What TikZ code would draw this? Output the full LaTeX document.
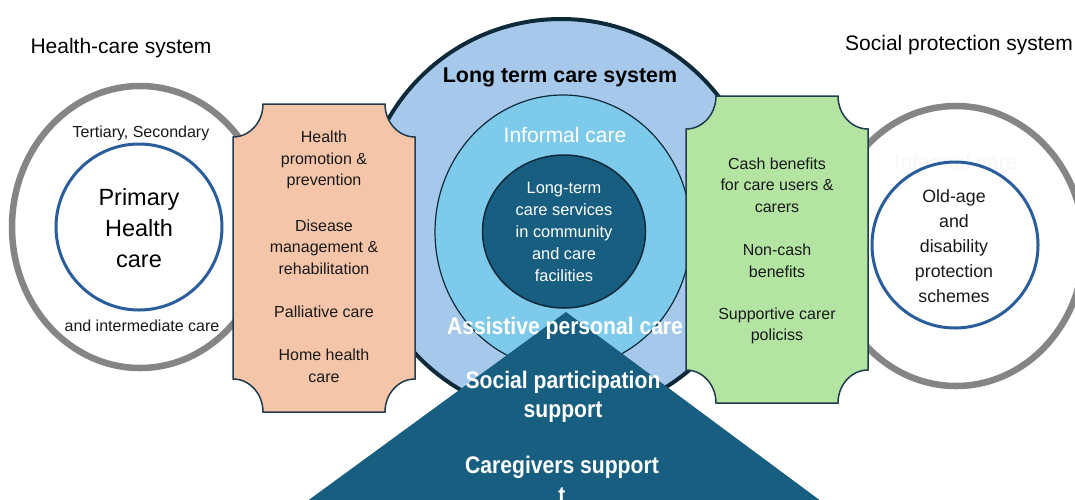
\documentclass[tikz,border=0pt]{standalone}
\usepackage{fontspec}
\setmainfont{Liberation Sans}
\newfontfamily\condbold{Liberation Sans}[FakeStretch=0.88]
\definecolor{ringgray}{HTML}{858585}
\definecolor{ringblue}{HTML}{2A5D9A}
\definecolor{ltcblue}{HTML}{A6C8EA}
\definecolor{ltcline}{HTML}{0E2A3A}
\definecolor{skyblue}{HTML}{7ECAEA}
\definecolor{darkteal}{HTML}{175E80}
\definecolor{salmonfill}{HTML}{F5C5A9}
\definecolor{greenfill}{HTML}{B3E4A2}
\definecolor{boxline}{HTML}{1F3B4D}
\definecolor{ghost}{HTML}{F7F7F7}
\begin{document}
\begin{tikzpicture}[x=1pt,y=-1pt,
  ring/.style={draw=ringgray,line width=6.5pt},
  bluering/.style={draw=ringblue,line width=3pt},
  boxst/.style={draw=boxline,line width=1.5pt},
  title/.style={font=\fontsize{21}{25}\selectfont,text=black,inner sep=0pt},
  body/.style={font=\fontsize{16}{21.5}\selectfont,align=center,text=black!90,inner sep=0pt},
  big/.style={font=\fontsize{23.5}{31}\selectfont,align=center,text=black,inner sep=0pt},
  wbody/.style={font=\fontsize{16.4}{21.8}\selectfont,align=center,text=white,inner sep=0pt},
  wbold/.style={font=\condbold\bfseries\fontsize{24}{29}\selectfont,align=center,text=white,inner sep=0pt}
]
\useasboundingbox (0,0) rectangle (1075,499);
\clip (0,0) rectangle (1075,499);
\fill[white] (0,0) rectangle (1075,499);

% side rings
\draw[ring] (140,227) ellipse [x radius=128, y radius=141];
\draw[ring] (956,246) ellipse [x radius=128, y radius=140];
\node[title,text=ghost] (ghosttxt) at (956,162) {Informal care};
\draw[bluering] (139,227) circle [radius=83];
\draw[bluering] (955,245) circle [radius=83];

% long term care circles
\draw[draw=ltcline,fill=ltcblue,line width=4pt] (561,218) circle [radius=199];
\draw[draw=ltcline,fill=skyblue,line width=1.2pt] (563,232) ellipse [x radius=128, y radius=137];
\draw[draw=ltcline,fill=darkteal,line width=1.5pt] (564,231.5) ellipse [x radius=81.5, y radius=76.5];

% notched boxes
\draw[boxst,fill=salmonfill] (263,104) -- (385,104)
  arc[start angle=180,end angle=90,x radius=30,y radius=33] -- (415,379)
  arc[start angle=270,end angle=180,x radius=30,y radius=33] -- (263,412)
  arc[start angle=0,end angle=-90,x radius=30,y radius=33] -- (233,137)
  arc[start angle=90,end angle=0,x radius=30,y radius=33] -- cycle;
\draw[boxst,fill=greenfill] (716,96) -- (838,96)
  arc[start angle=180,end angle=90,x radius=30,y radius=33] -- (868,370)
  arc[start angle=270,end angle=180,x radius=30,y radius=33] -- (716,403)
  arc[start angle=0,end angle=-90,x radius=30,y radius=33] -- (686,129)
  arc[start angle=90,end angle=0,x radius=30,y radius=33] -- cycle;

% triangle
\fill[darkteal] (566,312) -- (295,510) -- (833,510) -- cycle;

% titles
\node[title] (hcs) at (121,48) {Health-care system};
\node[title] (sps) at (959,45) {Social protection system};

% left ring texts
\node[body,font=\fontsize{16}{20}\selectfont] (tert) at (141,133) {Tertiary, Secondary};
\node[body,font=\fontsize{16}{20}\selectfont] (inter) at (142,326) {and intermediate care};
\node[big] (phc) at (139,228) {Primary\\Health\\care};

% salmon box texts
\node[body] (hpp) at (324,160) {Health\\promotion \&\\prevention};
\node[body] (dmr) at (324,247) {Disease\\management \&\\rehabilitation};
\node[body] (pal) at (324,312) {Palliative care};
\node[body] (hhc) at (324,366) {Home health\\care};

% green box texts
\node[body] (cash) at (777,185) {Cash benefits\\for care users \&\\carers};
\node[body] (ncash) at (777,261) {Non-cash\\benefits};
\node[body] (supp) at (777,326) {Supportive carer\\policiss};

% right ring texts
\node[body,font=\fontsize{17.8}{25}\selectfont] (oldage) at (954,246) {Old-age\\and\\disability\\protection\\schemes};

% centre texts
\node[inner sep=0pt,font=\bfseries\fontsize{21.4}{25}\selectfont] (ltcs) at (560,77) {Long term care system};
\node[title,text=white] (inf) at (565,135) {Informal care};
\node[wbody] (ltsvc) at (564,232) {Long-term\\care services\\in community\\and care\\facilities};
\node[wbold] (apc) at (565,328) {Assistive personal care};
\node[wbold] (spart) at (563,397) {Social participation\\support};
\node[wbold] (cgs) at (562,467) {Caregivers support};
\node[wbold,anchor=north] (tcut) at (562,488) {t};
\end{tikzpicture}
\end{document}
